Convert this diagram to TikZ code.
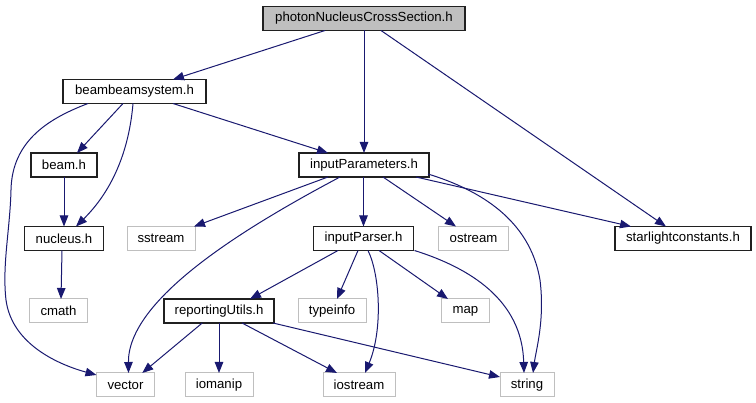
\documentclass[tikz,border=0pt]{standalone}
\usepackage{fontspec}
\setmainfont{Liberation Sans}
\usetikzlibrary{arrows.meta}
\definecolor{edgeblue}{HTML}{191970}
\definecolor{lightgrey}{HTML}{BFBFBF}
\definecolor{boxborder}{HTML}{202020}
\begin{document}
\begin{tikzpicture}[x=1pt,y=-1pt,
  every node/.style={font=\fontsize{13.2}{15}\selectfont, inner sep=0pt, outer sep=0pt},
  hbox/.style={draw=boxborder, line width=1.1pt, fill=white, minimum height=24pt},
  sysbox/.style={draw=lightgrey, line width=1pt, fill=white, minimum height=24pt},
  mainbox/.style={draw=boxborder, line width=1.1pt, fill=lightgrey, minimum height=24pt},
  edge/.style={draw=edgeblue, line width=1pt, -{Triangle[length=11pt,width=8.5pt]}, fill=none}
]
\useasboundingbox (0,0) rectangle (756,403);
\fill[white] (0,0) rectangle (756,403);

% nodes
\node[mainbox, minimum width=202pt] (photon) at (364,18.5) {photonNucleusCrossSection.h};
\node[hbox, minimum width=143pt] (bbs) at (134.5,91.5) {beambeamsystem.h};
\node[hbox, minimum width=66pt] (beam) at (64,165) {beam.h};
\node[hbox, minimum width=130pt] (ip) at (364,165) {inputParameters.h};
\node[hbox, minimum width=79pt] (nucleus) at (64,238.5) {nucleus.h};
\node[sysbox, minimum width=68pt] (sstream) at (161,238.5) {sstream};
\node[hbox, minimum width=100pt] (iparser) at (363.5,238.5) {inputParser.h};
\node[sysbox, minimum width=70pt] (ostream) at (473.5,238.5) {ostream};
\node[hbox, minimum width=136pt] (slc) at (683,238.5) {starlightconstants.h};
\node[sysbox, minimum width=58pt] (cmath) at (58.5,311) {cmath};
\node[hbox, minimum width=110pt] (ru) at (219,311) {reportingUtils.h};
\node[sysbox, minimum width=68pt] (typeinfo) at (332,311) {typeinfo};
\node[sysbox, minimum width=48pt] (map) at (465.5,311) {map};
\node[sysbox, minimum width=58pt] (vector) at (125.5,385) {vector};
\node[sysbox, minimum width=68pt] (iomanip) at (219,385) {iomanip};
\node[sysbox, minimum width=72pt] (iostream) at (359,385) {iostream};
\node[sysbox, minimum width=54pt] (string) at (527,385) {string};

% edges from photonNucleusCrossSection.h
\draw[edge] ([xshift=-39pt]photon.south) -- ([xshift=38.5pt]bbs.north);
\draw[edge] (photon.south) -- (ip.north);
\draw[edge] ([xshift=17pt]photon.south) -- ([xshift=-17pt]slc.north);

% edges from beambeamsystem.h
\draw[edge] ([xshift=-11.5pt]bbs.south) -- ([xshift=13pt]beam.north);
\draw[edge] ([xshift=-1.5pt]bbs.south) .. controls (130,140) and (118,185) .. ([xshift=12pt]nucleus.north);
\draw[edge] ([xshift=-46.5pt]bbs.south) .. controls (50,118) and (12,140) .. (11,190)
   .. controls (10,230) and (2,265) .. (6,300)
   .. controls (12,345) and (60,365) .. ([yshift=-2pt]vector.north west);
\draw[edge] ([xshift=38.5pt]bbs.south) -- ([xshift=-36pt]ip.north);

% beam.h, nucleus.h
\draw[edge] (beam.south) -- (nucleus.north);
\draw[edge] ([xshift=-2pt]nucleus.south) -- ([xshift=2.5pt]cmath.north);

% edges from inputParameters.h
\draw[edge] ([xshift=-36pt]ip.south) -- ([xshift=-1pt]sstream.north east);
\draw[edge] ([xshift=-24pt]ip.south) .. controls (240,230) and (128,300) .. ([xshift=3pt]vector.north);
\draw[edge] ([xshift=-0.5pt]ip.south) -- (iparser.north);
\draw[edge] ([xshift=19pt]ip.south) -- ([xshift=-17.5pt]ostream.north);
\draw[edge] ([xshift=52pt]ip.south) -- ([xshift=-52pt]slc.north);
\draw[edge] ([xshift=-1pt,yshift=3pt]ip.south east) .. controls (480,190) and (530,220) .. (540,280)
   .. controls (545,320) and (536,350) .. ([xshift=6pt]string.north);

% edges from inputParser.h
\draw[edge] ([xshift=-25.5pt]iparser.south) -- ([xshift=31pt]ru.north);
\draw[edge] ([xshift=-5.5pt]iparser.south) -- ([xshift=5pt]typeinfo.north);
\draw[edge] ([xshift=4.5pt]iparser.south) .. controls (380,275) and (383,330) .. ([xshift=6pt]iostream.north);
\draw[edge] ([xshift=15.5pt]iparser.south) -- ([xshift=-17.5pt]map.north);
\draw[edge] ([xshift=1pt]iparser.south east) .. controls (470,268) and (522,300) .. ([xshift=-3pt]string.north);

% edges from reportingUtils.h
\draw[edge] ([xshift=-16.75pt]ru.south) -- ([xshift=16.75pt]vector.north);
\draw[edge] (ru.south) -- (iomanip.north);
\draw[edge] ([xshift=23pt]ru.south) -- ([xshift=-22pt]iostream.north);
\draw[edge] ([xshift=-1pt]ru.south east) -- ([yshift=-4pt]string.north west);
\end{tikzpicture}
\end{document}
